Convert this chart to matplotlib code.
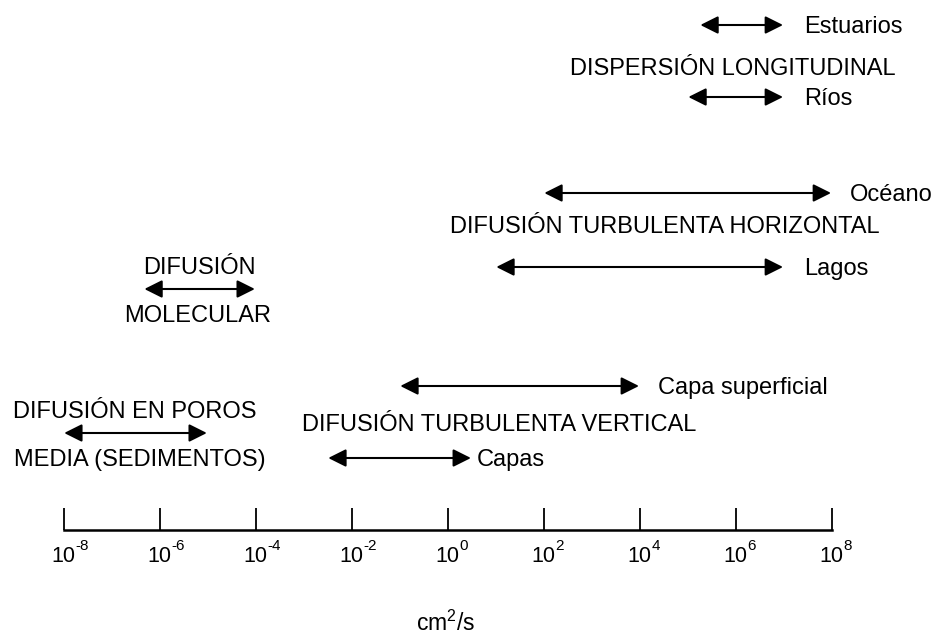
import matplotlib
matplotlib.use('Agg')
import matplotlib.pyplot as plt
from matplotlib.patches import ArrowStyle

plt.rcParams['font.family'] = ['Liberation Sans', 'DejaVu Sans']
plt.rcParams['mathtext.fontset'] = 'custom'
plt.rcParams['mathtext.rm'] = 'Liberation Sans'
plt.rcParams['mathtext.it'] = 'Liberation Sans:italic'
plt.rcParams['mathtext.default'] = 'regular'

# ---------------- data ----------------
tick_exponents = [-8, -6, -4, -2, 0, 2, 4, 6, 8]
range_labels = ['Estuarios', 'Ríos', 'Océano', 'Lagos',
                'Capa superficial', 'Capas', '', '']
range_low_exp = [5.25, 5.0, 2.0, 1.0, -1.0, -2.5, -6.33, -8.0]
range_high_exp = [7.0, 7.0, 8.0, 7.0, 4.0, 0.5, -4.0, -5.0]
group_titles = ['DISPERSIÓN LONGITUDINAL', 'DIFUSIÓN TURBULENTA HORIZONTAL',
                'DIFUSIÓN TURBULENTA VERTICAL', 'DIFUSIÓN', 'MOLECULAR',
                'DIFUSIÓN EN POROS', 'MEDIA (SEDIMENTOS)']
unit_label = r'cm$^{2}$/s'

# ---------------- layout (pixels from top) ----------------
arrow_rows = [25, 97, 193, 267, 386, 458, 289, 433]
label_gap_px = [20, 20, 18, 20, 18, 5, 0, 0]
title_center_exp = [5.94, 4.53, 1.08, -5.16, -5.2, -6.51, -6.41]
title_baseline = [75, 233, 431, 274, 322, 418, 466]

W, H = 937, 637
fig = plt.figure(figsize=(W / 100, H / 100), dpi=100)
x0, x1 = 63.5, 831.7
axis_y = 529.5
ax = fig.add_axes([x0 / W, (H - axis_y) / H, (x1 - x0) / W, axis_y / H])
ax.set_facecolor('none')
ax.set_xscale('log')
ax.set_xlim(10.0 ** tick_exponents[0], 10.0 ** tick_exponents[-1])
ax.set_ylim(axis_y, 0)
for s in ['top', 'left', 'right']:
    ax.spines[s].set_visible(False)
ax.spines['bottom'].set_linewidth(1.8)
ax.set_xticks([10.0 ** e for e in tick_exponents])
ax.xaxis.set_minor_locator(matplotlib.ticker.NullLocator())
ax.tick_params(axis='x', direction='in', length=15.8, width=1.3,
               labelbottom=False, color='black')
ax.set_yticks([])

px2pt = 72 / 100

# tick labels: "10" centered on tick, exponent as superscript
for e in tick_exponents:
    ax.text(10.0 ** e, 562.5, '10', ha='center', va='baseline', fontsize=15.5)
    ax.annotate(f'{e}', xy=(10.0 ** e, 562.5), xytext=(11.5 * px2pt, 12 * px2pt),
                textcoords='offset points', ha='left', va='baseline',
                fontsize=11, annotation_clip=False)

# unit label
ax.text(10.0 ** -0.05, 631, unit_label, ha='center', va='baseline', fontsize=16.5)

# range arrows
style = ArrowStyle('<|-|>', head_length=0.4, head_width=0.2)
for lab, lo, hi, y, gap in zip(range_labels, range_low_exp, range_high_exp,
                               arrow_rows, label_gap_px):
    ax.annotate('', xy=(10.0 ** hi, y), xytext=(10.0 ** lo, y),
                arrowprops=dict(arrowstyle=style, mutation_scale=27, lw=1.5,
                                color='black', shrinkA=0.5, shrinkB=0.5),
                annotation_clip=False)
    if lab:
        ax.annotate(lab, xy=(10.0 ** hi, y), xytext=(gap * px2pt, -8 * px2pt),
                    textcoords='offset points', ha='left', va='baseline',
                    fontsize=17, annotation_clip=False)

# group titles
for t, cx, by in zip(group_titles, title_center_exp, title_baseline):
    ax.text(10.0 ** cx, by, t, ha='center', va='baseline', fontsize=17)

fig.savefig('out.png', dpi=100, facecolor='white')
